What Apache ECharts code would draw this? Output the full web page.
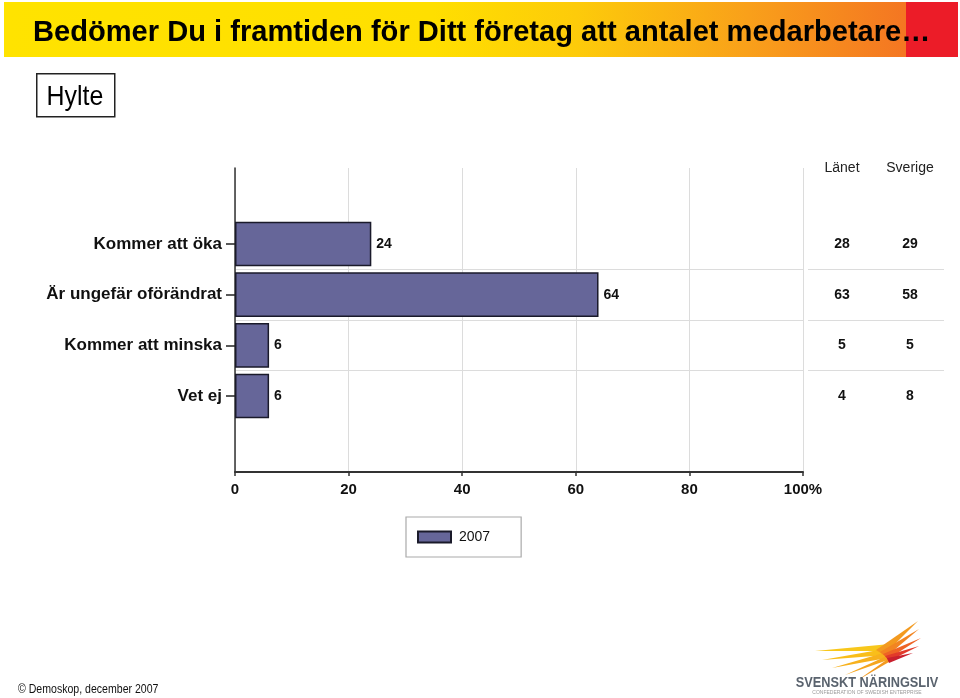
<!DOCTYPE html>
<html>
<head>
<meta charset="utf-8">
<script src="https://cdn.jsdelivr.net/npm/echarts@6/dist/echarts.min.js"></script>
<style>html,body{margin:0;padding:0;background:#fff}#c{width:960px;height:698px}</style>
</head>
<body>
<div id="c"></div>
<script>
var categories = ['Kommer att öka', 'Är ungefär oförändrat', 'Kommer att minska', 'Vet ej'];
var values2007 = [24, 64, 6, 6];
var lanet = [28, 63, 5, 4];
var sverige = [29, 58, 5, 8];
var compareColumns = ['Länet', 'Sverige'];
var xTicks = [0, 20, 40, 60, 80, 100];
var seriesName = '2007';

var padTop = ' ', padBottom = '  ';
var yCats = [padTop].concat(categories, [padBottom]);
var barData = [null].concat(values2007, [null]);

function isPad(v) { return v === padTop || v === padBottom; }
function splitInt(i, v) { return v === padTop || categories.indexOf(v) >= 1; }

var chart = echarts.init(document.getElementById('c'));

function feather(tip, j1, j2, color) {
  return { type: 'polygon', shape: { points: [tip, j1, j2] }, style: { fill: color } };
}

var option = {
  backgroundColor: '#fff',
  animation: false,
  textStyle: { fontFamily: 'Liberation Sans, Arial, sans-serif' },
  grid: [
    { left: 235, right: 157, top: 168, bottom: 226 },
    { left: 808, right: 16, top: 168, bottom: 226 }
  ],
  xAxis: [
    {
      gridIndex: 0, type: 'value', min: 0, max: 100, interval: 20,
      axisLine: { show: true, lineStyle: { color: '#333', width: 2 } },
      axisTick: { show: true, length: 4, lineStyle: { color: '#333', width: 1.5 } },
      axisLabel: { margin: 10, color: '#111', fontWeight: 'bold', fontSize: 15,
        formatter: function (v) { return v === 100 ? '100%' : String(v); } },
      splitLine: { show: true, lineStyle: { color: '#dcdcdc', width: 1 } }
    },
    {
      gridIndex: 1, type: 'category', data: compareColumns, position: 'top', offset: -7,
      axisLine: { show: false }, axisTick: { show: false },
      axisLabel: { color: '#222', fontSize: 14, margin: 0 },
      splitLine: { show: false }
    }
  ],
  yAxis: [
    {
      gridIndex: 0, type: 'category', data: yCats, inverse: true,
      axisLine: { show: true, lineStyle: { color: '#333', width: 1.5 } },
      axisTick: { show: true, alignWithLabel: true, length: 9, inside: false,
        interval: function (i, v) { return !isPad(v); },
        lineStyle: { color: '#222', width: 1.5 } },
      axisLabel: { margin: 13, color: '#111', fontWeight: 'bold', fontSize: 17,
        interval: 0 },
      splitLine: { show: true, interval: splitInt, showMinLine: false, showMaxLine: false,
        lineStyle: { color: '#dcdcdc', width: 1 } }
    },
    {
      gridIndex: 1, type: 'category', data: yCats, inverse: true,
      axisLine: { show: false }, axisTick: { show: false }, axisLabel: { show: false },
      splitLine: { show: true, interval: splitInt, showMinLine: false, showMaxLine: false,
        lineStyle: { color: '#dcdcdc', width: 1 } }
    }
  ],
  legend: {
    left: 406, top: 517,
    padding: [13, 31, 13, 11],
    borderColor: '#aaa', borderWidth: 1.2,
    itemWidth: 33, itemHeight: 11, icon: 'rect',
    textStyle: { fontSize: 14, color: '#111', padding: [0, 0, 0, 3] },
    data: [seriesName]
  },
  series: [
    {
      name: seriesName, type: 'bar', xAxisIndex: 0, yAxisIndex: 0,
      data: barData, barCategoryGap: '12%',
      itemStyle: { color: '#666699', borderColor: '#1a1a2a', borderWidth: 1.5 },
      label: { show: true, position: 'right', distance: 5, color: '#111',
        fontWeight: 'bold', fontSize: 14 }
    },
    {
      name: compareColumns[0], type: 'scatter', xAxisIndex: 1, yAxisIndex: 1, symbolSize: 0,
      itemStyle: { opacity: 1 },
      data: lanet.map(function (v, i) { return [compareColumns[0], categories[i], v]; }),
      label: { show: true, position: 'inside', color: '#111', fontWeight: 'bold', fontSize: 14,
        formatter: function (p) { return p.value[2]; } }
    },
    {
      name: compareColumns[1], type: 'scatter', xAxisIndex: 1, yAxisIndex: 1, symbolSize: 0,
      itemStyle: { opacity: 1 },
      data: sverige.map(function (v, i) { return [compareColumns[1], categories[i], v]; }),
      label: { show: true, position: 'inside', color: '#111', fontWeight: 'bold', fontSize: 14,
        formatter: function (p) { return p.value[2]; } }
    }
  ],
  graphic: [
    {
      type: 'rect', left: 4, top: 2, z: -1,
      shape: { width: 954, height: 55 },
      style: {
        fill: new echarts.graphic.LinearGradient(0, 0, 1, 0, [
          { offset: 0, color: '#FFE300' },
          { offset: 0.45, color: '#FFDF00' },
          { offset: 0.6, color: '#FDCB0A' },
          { offset: 0.78, color: '#F9A01A' },
          { offset: 0.945, color: '#F47622' },
          { offset: 0.946, color: '#EC1C28' },
          { offset: 1, color: '#EC1C28' }
        ])
      }
    },
    {
      type: 'text', x: 33, y: 33, scaleX: 0.97,
      style: { text: 'Bedömer Du i framtiden för Ditt företag att antalet medarbetare…',
        fontFamily: 'Liberation Sans, Arial, sans-serif',
        fontWeight: 'bold', fontSize: 30, fill: '#000', verticalAlign: 'middle' }
    },
    {
      type: 'rect', left: 36, top: 73,
      shape: { width: 78, height: 43 },
      style: { fill: '#fff', stroke: '#222', lineWidth: 1.5 }
    },
    {
      type: 'text', x: 75, y: 97, scaleX: 0.89,
      style: { text: 'Hylte', fontFamily: 'Liberation Sans, sans-serif', fontSize: 28,
        fill: '#000', align: 'center', verticalAlign: 'middle' }
    },
    {
      type: 'text', x: 18, y: 690, scaleX: 0.88,
      style: { text: '© Demoskop, december 2007', fontFamily: 'Liberation Sans, sans-serif',
        fontSize: 12, fill: '#111', verticalAlign: 'middle' }
    },
    feather([815, 651], [890, 644], [887, 651], '#F8C71B'),
    feather([822, 660], [890, 648], [887, 655], '#F9BE1A'),
    feather([832, 668], [890, 651], [887, 658], '#F7B11C'),
    feather([845, 675], [891, 654], [888, 660], '#F5A51E'),
    feather([858, 680], [892, 656], [889, 662], '#F39A1F'),
    feather([918, 621], [876, 650], [884, 655], '#F39A1F'),
    feather([919, 629], [880, 652], [886, 657], '#F28521'),
    feather([921, 638], [883, 654], [888, 659], '#EE6325'),
    feather([919, 646], [885, 656], [889, 661], '#E23A2A'),
    feather([913, 653], [887, 658], [889, 663], '#C9202E'),
    {
      type: 'text', x: 867, y: 683, scaleX: 0.85,
      style: { text: 'SVENSKT NÄRINGSLIV', fontFamily: 'Liberation Sans, sans-serif',
        fontWeight: 'bold', fontSize: 15, fill: '#5a636e', align: 'center', verticalAlign: 'middle' }
    },
    {
      type: 'text', x: 867, y: 693,
      style: { text: 'CONFEDERATION OF SWEDISH ENTERPRISE', fontFamily: 'Liberation Sans, sans-serif',
        fontSize: 5, fill: '#9a9a9a', align: 'center', verticalAlign: 'middle' }
    }
  ]
};
chart.setOption(option);
</script>
</body>
</html>
